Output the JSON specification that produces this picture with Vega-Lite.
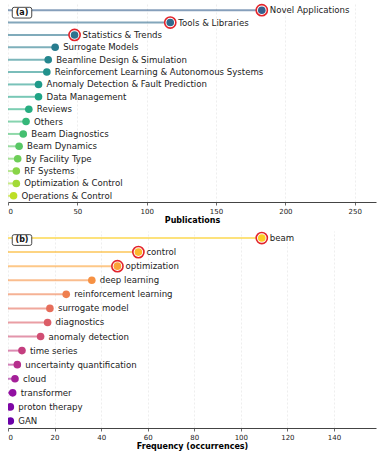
{
  "$schema": "https://vega.github.io/schema/vega-lite/v6.json",
  "padding": {"left": 7, "top": 1, "right": 6, "bottom": 5},
  "spacing": 5,
  "resolve": {"scale": {"color": "independent", "x": "independent", "y": "independent"}},
  "config": {
    "view": {"stroke": null},
    "font": "DejaVu Sans",
    "axis": {
      "labelFont": "DejaVu Sans", "labelFontSize": 7, "labelColor": "#222",
      "titleFont": "DejaVu Sans", "titleFontSize": 8, "titleFontWeight": "bold", "titleColor": "#000",
      "domainColor": "#444", "domainWidth": 1, "tickColor": "#444", "tickSize": 3, "tickWidth": 0.8,
      "gridColor": "#e2e2e2", "gridDash": [2, 2], "gridWidth": 0.6, "labelPadding": 2, "titlePadding": 2
    }
  },
  "datasets": {
    "pubs": [
      {"cat": "Novel Applications", "v": 183, "z": 0},
      {"cat": "Tools & Libraries", "v": 117, "z": 0},
      {"cat": "Statistics & Trends", "v": 48, "z": 0},
      {"cat": "Surrogate Models", "v": 34, "z": 0},
      {"cat": "Beamline Design & Simulation", "v": 29, "z": 0},
      {"cat": "Reinforcement Learning & Autonomous Systems", "v": 28, "z": 0},
      {"cat": "Anomaly Detection & Fault Prediction", "v": 22, "z": 0},
      {"cat": "Data Management", "v": 22, "z": 0},
      {"cat": "Reviews", "v": 15, "z": 0},
      {"cat": "Others", "v": 13, "z": 0},
      {"cat": "Beam Diagnostics", "v": 11, "z": 0},
      {"cat": "Beam Dynamics", "v": 8, "z": 0},
      {"cat": "By Facility Type", "v": 7, "z": 0},
      {"cat": "RF Systems", "v": 6, "z": 0},
      {"cat": "Optimization & Control", "v": 6, "z": 0},
      {"cat": "Operations & Control", "v": 4, "z": 0}
    ],
    "kw": [
      {"cat": "beam", "v": 109, "z": 0},
      {"cat": "control", "v": 56, "z": 0},
      {"cat": "optimization", "v": 47, "z": 0},
      {"cat": "deep learning", "v": 36, "z": 0},
      {"cat": "reinforcement learning", "v": 25, "z": 0},
      {"cat": "surrogate model", "v": 18, "z": 0},
      {"cat": "diagnostics", "v": 17, "z": 0},
      {"cat": "anomaly detection", "v": 14, "z": 0},
      {"cat": "time series", "v": 6, "z": 0},
      {"cat": "uncertainty quantification", "v": 4, "z": 0},
      {"cat": "cloud", "v": 3, "z": 0},
      {"cat": "transformer", "v": 2, "z": 0},
      {"cat": "proton therapy", "v": 1, "z": 0},
      {"cat": "GAN", "v": 1, "z": 0}
    ],
    "labA": [{"t": "(a)", "cat": "Novel Applications", "z": 0}],
    "labB": [{"t": "(b)", "cat": "beam", "z": 0}]
  },
  "vconcat": [
    {
      "width": 368,
      "height": 198,
      "layer": [
        {
          "data": {"name": "pubs"},
          "mark": {"type": "rule", "strokeWidth": 2, "opacity": 0.6},
          "encoding": {
            "y": {"field": "cat", "type": "nominal", "sort": null, "axis": null,
                  "scale": {"type": "point", "padding": 0.5, "domain": ["Novel Applications","Tools & Libraries","Statistics & Trends","Surrogate Models","Beamline Design & Simulation","Reinforcement Learning & Autonomous Systems","Anomaly Detection & Fault Prediction","Data Management","Reviews","Others","Beam Diagnostics","Beam Dynamics","By Facility Type","RF Systems","Optimization & Control","Operations & Control"]}},
            "x": {"field": "z", "type": "quantitative", "scale": {"domain": [0, 265.35], "nice": false},
                  "axis": {"title": "Publications", "values": [0, 50, 100, 150, 200, 250], "grid": true}},
            "x2": {"field": "v"},
            "color": {"field": "cat", "type": "nominal", "legend": null,
              "scale": {"domain": ["Novel Applications","Tools & Libraries","Statistics & Trends","Surrogate Models","Beamline Design & Simulation","Reinforcement Learning & Autonomous Systems","Anomaly Detection & Fault Prediction","Data Management","Reviews","Others","Beam Diagnostics","Beam Dynamics","By Facility Type","RF Systems","Optimization & Control","Operations & Control"],
                "range": ["#355f8d","#306a8e","#2c738e","#287c8e","#24868e","#21918c","#1f9a8a","#20a486","#27ad81","#35b779","#44bf70","#58c765","#6ece58","#89d548","#a2da37","#bddf26"]}}
          }
        },
        {
          "data": {"name": "pubs"},
          "transform": [{"filter": "datum.v >= 40"}],
          "mark": {"type": "point", "shape": "circle", "filled": true, "fill": "white", "stroke": "#e3242b", "strokeWidth": 1.6, "size": 125, "opacity": 1},
          "encoding": {"x": {"field": "v", "type": "quantitative"}, "y": {"field": "cat", "type": "nominal", "sort": null}}
        },
        {
          "data": {"name": "pubs"},
          "mark": {"type": "point", "shape": "circle", "filled": true, "size": 58, "opacity": 1, "clip": true},
          "encoding": {
            "x": {"field": "v", "type": "quantitative"},
            "y": {"field": "cat", "type": "nominal", "sort": null},
            "color": {"field": "cat", "type": "nominal", "legend": null}
          }
        },
        {
          "data": {"name": "pubs"},
          "mark": {"type": "text", "align": "left", "baseline": "middle", "dx": 8, "fontSize": 8.6, "color": "#222"},
          "encoding": {
            "x": {"field": "v", "type": "quantitative"},
            "y": {"field": "cat", "type": "nominal", "sort": null},
            "text": {"field": "cat", "type": "nominal"}
          }
        },
        {
          "data": {"name": "labA"},
          "mark": {"type": "point", "shape": "M -0.8,-0.55 L 0.8,-0.55 Q 1,-0.55 1,-0.35 L 1,0.35 Q 1,0.55 0.8,0.55 L -0.8,0.55 Q -1,0.55 -1,0.35 L -1,-0.35 Q -1,-0.55 -0.8,-0.55 Z",
                   "size": 380, "filled": true, "fill": "white", "stroke": "#333", "strokeWidth": 0.9, "opacity": 1, "xOffset": 14, "yOffset": 2.5},
          "encoding": {"x": {"field": "z", "type": "quantitative"}, "y": {"field": "cat", "type": "nominal", "sort": null}}
        },
        {
          "data": {"name": "labA"},
          "mark": {"type": "text", "align": "center", "baseline": "middle", "fontSize": 8, "fontWeight": "bold", "color": "#111", "xOffset": 14, "yOffset": 2.5},
          "encoding": {"x": {"field": "z", "type": "quantitative"}, "y": {"field": "cat", "type": "nominal", "sort": null}, "text": {"field": "t", "type": "nominal"}}
        }
      ]
    },
    {
      "width": 368,
      "height": 197,
      "layer": [
        {
          "data": {"name": "kw"},
          "mark": {"type": "rule", "strokeWidth": 2, "opacity": 0.6},
          "encoding": {
            "y": {"field": "cat", "type": "nominal", "sort": null, "axis": null,
                  "scale": {"type": "point", "padding": 0.5, "domain": ["beam","control","optimization","deep learning","reinforcement learning","surrogate model","diagnostics","anomaly detection","time series","uncertainty quantification","cloud","transformer","proton therapy","GAN"]}},
            "x": {"field": "z", "type": "quantitative", "scale": {"domain": [0, 158.05], "nice": false},
                  "axis": {"title": "Frequency (occurrences)", "values": [0, 20, 40, 60, 80, 100, 120, 140], "grid": true}},
            "x2": {"field": "v"},
            "color": {"field": "cat", "type": "nominal", "legend": null,
              "scale": {"domain": ["beam","control","optimization","deep learning","reinforcement learning","surrogate model","diagnostics","anomaly detection","time series","uncertainty quantification","cloud","transformer","proton therapy","GAN"],
                "range": ["#fcce25","#fcb82e","#fba338","#f69143","#ef7f4e","#e66e5b","#dc5d67","#d14e73","#c43e7f","#b52e8c","#a41f98","#9210a2","#7e07a6","#6a00a8"]}}
          }
        },
        {
          "data": {"name": "kw"},
          "transform": [{"filter": "datum.v >= 40"}],
          "mark": {"type": "point", "shape": "circle", "filled": true, "fill": "white", "stroke": "#e3242b", "strokeWidth": 1.6, "size": 125, "opacity": 1},
          "encoding": {"x": {"field": "v", "type": "quantitative"}, "y": {"field": "cat", "type": "nominal", "sort": null}}
        },
        {
          "data": {"name": "kw"},
          "mark": {"type": "point", "shape": "circle", "filled": true, "size": 58, "opacity": 1, "clip": true},
          "encoding": {
            "x": {"field": "v", "type": "quantitative"},
            "y": {"field": "cat", "type": "nominal", "sort": null},
            "color": {"field": "cat", "type": "nominal", "legend": null}
          }
        },
        {
          "data": {"name": "kw"},
          "mark": {"type": "text", "align": "left", "baseline": "middle", "dx": 8, "fontSize": 8.6, "color": "#222"},
          "encoding": {
            "x": {"field": "v", "type": "quantitative"},
            "y": {"field": "cat", "type": "nominal", "sort": null},
            "text": {"field": "cat", "type": "nominal"}
          }
        },
        {
          "data": {"name": "labB"},
          "mark": {"type": "point", "shape": "M -0.8,-0.55 L 0.8,-0.55 Q 1,-0.55 1,-0.35 L 1,0.35 Q 1,0.55 0.8,0.55 L -0.8,0.55 Q -1,0.55 -1,0.35 L -1,-0.35 Q -1,-0.55 -0.8,-0.55 Z",
                   "size": 380, "filled": true, "fill": "white", "stroke": "#333", "strokeWidth": 0.9, "opacity": 1, "xOffset": 14, "yOffset": 2},
          "encoding": {"x": {"field": "z", "type": "quantitative"}, "y": {"field": "cat", "type": "nominal", "sort": null}}
        },
        {
          "data": {"name": "labB"},
          "mark": {"type": "text", "align": "center", "baseline": "middle", "fontSize": 8, "fontWeight": "bold", "color": "#111", "xOffset": 14, "yOffset": 2},
          "encoding": {"x": {"field": "z", "type": "quantitative"}, "y": {"field": "cat", "type": "nominal", "sort": null}, "text": {"field": "t", "type": "nominal"}}
        }
      ]
    }
  ]
}
